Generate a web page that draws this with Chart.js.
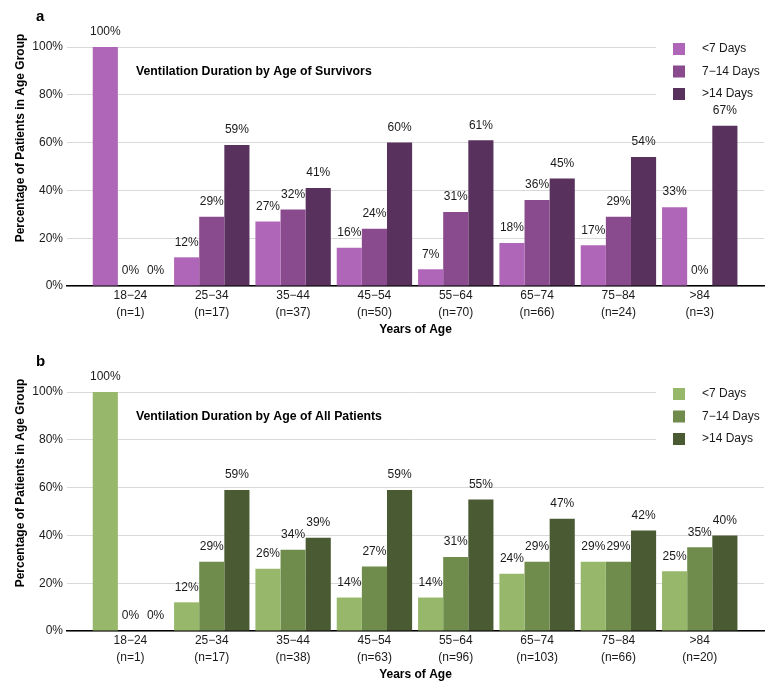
<!DOCTYPE html>
<html>
<head>
<meta charset="utf-8">
<script src="https://cdn.jsdelivr.net/npm/chart.js@4.4.1/dist/chart.umd.min.js"></script>
<style>
  html, body { margin: 0; padding: 0; background: #ffffff; }
  .wrap { position: relative; width: 780px; height: 690px; }
  canvas { position: absolute; left: 0; }
</style>
</head>
<body>
<div class="wrap">
  <canvas id="chartA" width="780" height="345" style="top:0px"></canvas>
  <canvas id="chartB" width="780" height="345" style="top:345px"></canvas>
</div>
<script>
// ---- Data ----
const ageGroups = ['18−24', '25−34', '35−44', '45−54', '55−64', '65−74', '75−84', '>84'];
const seriesNames = ['<7 Days', '7−14 Days', '>14 Days'];
const yTickValues = [0, 20, 40, 60, 80, 100];

// Panel a: survivors
const survivorsN = [1, 17, 37, 50, 70, 66, 24, 3];
const survivorsUnder7 = [100, 12, 27, 16, 7, 18, 17, 33];
const survivors7to14 = [0, 29, 32, 24, 31, 36, 29, 0];
const survivorsOver14 = [0, 59, 41, 60, 61, 45, 54, 67];

// Panel b: all patients
const allN = [1, 17, 38, 63, 96, 103, 66, 20];
const allUnder7 = [100, 12, 26, 14, 14, 24, 29, 25];
const all7to14 = [0, 29, 34, 27, 31, 29, 29, 35];
const allOver14 = [0, 59, 39, 59, 55, 47, 42, 40];

const purples = ['#b066b8', '#8a4b8e', '#58315d'];
const greens = ['#97b86a', '#6f8c4c', '#4a5b34'];

const FONT = '"Liberation Sans", Arial, Helvetica, sans-serif';
const TEXT = '#1a1a1a';
const Y_TITLE = 'Percentage of Patients in Age Group';

function makeChart(id, panelLetter, innerTitle, ns, series, colors) {
  const datasets = series.map((vals, si) => ({
    label: seriesNames[si],
    data: vals.map((v, i) => ({ x: i, y: v })),
    backgroundColor: colors[si],
    borderWidth: 0,
    categoryPercentage: 0.927,
    barPercentage: 1.0
  }));

  const overlay = {
    id: 'overlay' + id,
    beforeDatasetsDraw(chart) {
      const ctx = chart.ctx;
      ctx.save();
      // legend box (covers gridlines behind it)
      ctx.fillStyle = '#ffffff';
      ctx.fillRect(656, 36, 114, 68);
      ctx.font = '12px ' + FONT;
      ctx.textAlign = 'left';
      ctx.textBaseline = 'middle';
      seriesNames.forEach((name, si) => {
        const cy = 49 + si * 22.5;
        ctx.fillStyle = colors[si];
        ctx.fillRect(673, cy - 6, 12, 12);
        ctx.fillStyle = TEXT;
        ctx.fillText(name, 702, cy);
      });
      ctx.restore();
    },
    afterDatasetsDraw(chart) {
      const ctx = chart.ctx;
      ctx.save();
      ctx.font = '12px ' + FONT;
      ctx.fillStyle = TEXT;
      ctx.textAlign = 'center';
      ctx.textBaseline = 'middle';
      chart.data.datasets.forEach((ds, di) => {
        const meta = chart.getDatasetMeta(di);
        meta.data.forEach((el, i) => {
          ctx.fillText(ds.data[i].y + '%', el.x, el.y - 15);
        });
      });
      ctx.restore();
    },
    afterDraw(chart) {
      const ctx = chart.ctx;
      ctx.save();
      ctx.fillStyle = '#000';
      ctx.font = 'bold 15px ' + FONT;
      ctx.textAlign = 'left';
      ctx.textBaseline = 'middle';
      ctx.fillText(panelLetter, 36, 17);
      ctx.font = 'bold 12.3px ' + FONT;
      ctx.fillText(innerTitle, 136, 72);
      // y-axis title
      ctx.save();
      ctx.translate(21, 138);
      ctx.rotate(-Math.PI / 2);
      ctx.textAlign = 'center';
      ctx.textBaseline = 'middle';
      ctx.font = 'bold 12px ' + FONT;
      ctx.fillText(Y_TITLE, 0, 0);
      ctx.restore();
      ctx.restore();
    }
  };

  return new Chart(document.getElementById(id), {
    type: 'bar',
    data: { datasets },
    options: {
      responsive: false,
      animation: false,
      devicePixelRatio: 1,
      layout: { padding: { top: 47, right: 16, bottom: 0, left: 0 } },
      plugins: { legend: { display: false }, tooltip: { enabled: false } },
      scales: {
        x: {
          type: 'linear',
          offset: false,
          min: -0.78,
          max: 7.79,
          grid: { display: false, drawTicks: false },
          border: { display: true, color: '#000000', width: 1.5 },
          afterBuildTicks(scale) {
            scale.ticks = ageGroups.map((_, i) => ({ value: i }));
          },
          afterFit(scale) { scale.height = 59; },
          ticks: {
            autoSkip: false,
            maxRotation: 0,
            padding: 2,
            color: TEXT,
            font: { family: FONT, size: 12, lineHeight: 1.35 },
            callback: (value) => [ageGroups[value], '(n=' + ns[value] + ')']
          },
          title: {
            display: true,
            text: 'Years of Age',
            color: '#000',
            font: { family: FONT, size: 12, weight: 'bold' },
            padding: { top: 0, bottom: 8 }
          }
        },
        y: {
          min: 0,
          max: 100,
          afterBuildTicks(scale) {
            scale.ticks = yTickValues.map(v => ({ value: v }));
          },
          afterFit(scale) { scale.width = 67; },
          grid: { color: '#d9d9d9', lineWidth: 1, drawTicks: false },
          border: { display: false },
          ticks: {
            padding: 4,
            color: TEXT,
            font: { family: FONT, size: 12 },
            callback: (v) => v + '%'
          },
          title: { display: false }
        }
      }
    },
    plugins: [overlay]
  });
}

makeChart('chartA', 'a', 'Ventilation Duration by Age of Survivors', survivorsN,
  [survivorsUnder7, survivors7to14, survivorsOver14], purples);
makeChart('chartB', 'b', 'Ventilation Duration by Age of All Patients', allN,
  [allUnder7, all7to14, allOver14], greens);
</script>
</body>
</html>
